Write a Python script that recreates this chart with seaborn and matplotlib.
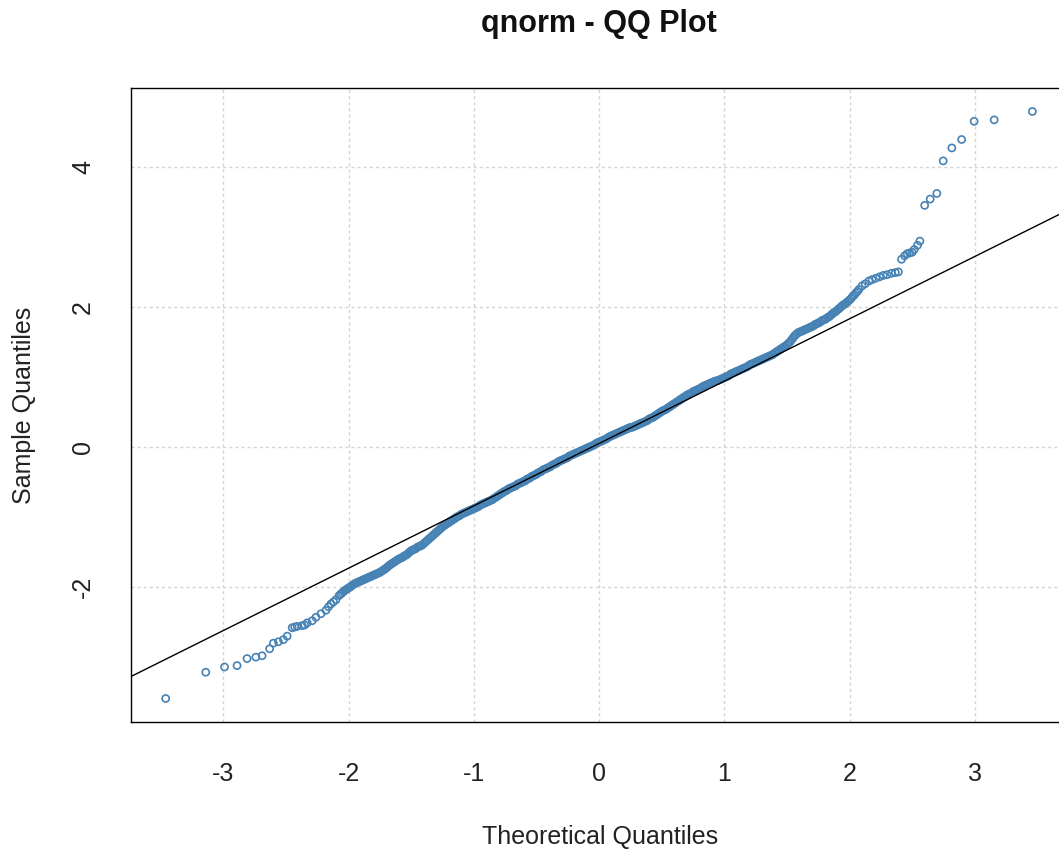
import matplotlib
matplotlib.use("Agg")
import matplotlib.pyplot as plt
import seaborn as sns
import pandas as pd

# Normal QQ plot: theoretical normal quantiles against ordered sample values
theoretical = [
    -3.46, -3.14, -2.99, -2.89, -2.81, -2.74, -2.69, -2.63, -2.60, -2.56,
    -2.52, -2.49, -2.45, -2.43, -2.41, -2.37, -2.35, -2.33, -2.29, -2.26,
    -2.22, -2.18, -2.16, -2.14, -2.12, -2.10, -2.075, -2.05, -2.025, -2.00,
    -1.975, -1.95, -1.925, -1.90, -1.875, -1.85, -1.825, -1.80, -1.775, -1.75,
    -1.725, -1.70, -1.675, -1.65, -1.625, -1.60, -1.575, -1.55,
    -1.525, -1.500, -1.475, -1.450, -1.425, -1.400, -1.375, -1.350, -1.325, -1.300,
    -1.275, -1.250, -1.225, -1.200, -1.175, -1.150, -1.125, -1.100, -1.075, -1.050,
    -1.025, -1.000, -0.975, -0.950, -0.925, -0.900, -0.875, -0.850, -0.825, -0.800,
    -0.775, -0.750, -0.725, -0.700, -0.675, -0.650, -0.625, -0.600, -0.575, -0.550,
    -0.525, -0.500, -0.475, -0.450, -0.425, -0.400, -0.375, -0.350, -0.325, -0.300,
    -0.275, -0.250, -0.225, -0.200, -0.175, -0.150, -0.125, -0.100, -0.075, -0.050,
    -0.025, 0.000, 0.025, 0.050, 0.075, 0.100, 0.125, 0.150, 0.175, 0.200,
    0.225, 0.250, 0.275, 0.300, 0.325, 0.350, 0.375, 0.400, 0.425, 0.450,
    0.475, 0.500, 0.525, 0.550, 0.575, 0.600, 0.625, 0.650, 0.675, 0.700,
    0.725, 0.750, 0.775, 0.800, 0.825, 0.850, 0.875, 0.900, 0.925, 0.950,
    0.975, 1.000, 1.025, 1.050, 1.075, 1.100, 1.125, 1.150, 1.175, 1.200,
    1.225, 1.250, 1.275, 1.300, 1.325, 1.350, 1.375, 1.400, 1.425, 1.450,
    1.475, 1.500, 1.525, 1.550, 1.575, 1.600, 1.625, 1.650, 1.675, 1.700,
    1.725, 1.750, 1.775, 1.800, 1.825, 1.850, 1.875, 1.900, 1.925, 1.950,
    1.975, 2.000, 2.025, 2.050, 2.075,
    2.10, 2.125, 2.155, 2.18, 2.21, 2.24, 2.27, 2.30, 2.335, 2.366,
    2.39, 2.415, 2.44, 2.46, 2.48, 2.50, 2.517, 2.543, 2.562, 2.60,
    2.644, 2.697, 2.748, 2.817, 2.895, 2.995, 3.155, 3.46,
]
sample = [
    -3.59, -3.215, -3.14, -3.12, -3.02, -3.00, -2.98, -2.88, -2.80, -2.78,
    -2.75, -2.70, -2.58, -2.57, -2.56, -2.55, -2.54, -2.51, -2.48, -2.43,
    -2.38, -2.33, -2.28, -2.24, -2.21, -2.18, -2.12, -2.08, -2.04, -2.01,
    -1.98, -1.95, -1.93, -1.91, -1.89, -1.87, -1.85, -1.83, -1.81, -1.79,
    -1.76, -1.73, -1.69, -1.66, -1.63, -1.60, -1.58, -1.55,
    -1.52, -1.48, -1.46, -1.43, -1.41, -1.38, -1.34, -1.30, -1.26, -1.22,
    -1.18, -1.14, -1.11, -1.08, -1.05, -1.02, -0.99, -0.96, -0.94, -0.92,
    -0.90, -0.88, -0.86, -0.83, -0.81, -0.79, -0.77, -0.75, -0.72, -0.69,
    -0.66, -0.63, -0.60, -0.58, -0.56, -0.53, -0.51, -0.49, -0.46, -0.44,
    -0.41, -0.39, -0.36, -0.33, -0.31, -0.29, -0.26, -0.24, -0.21, -0.19,
    -0.17, -0.15, -0.12, -0.10, -0.08, -0.06, -0.04, -0.02, 0.00, 0.02,
    0.05, 0.07, 0.09, 0.11, 0.14, 0.16, 0.18, 0.20, 0.22, 0.24,
    0.26, 0.28, 0.29, 0.31, 0.33, 0.35, 0.37, 0.40, 0.42, 0.45,
    0.48, 0.51, 0.53, 0.56, 0.59, 0.62, 0.65, 0.68, 0.71, 0.74,
    0.76, 0.79, 0.81, 0.83, 0.86, 0.88, 0.90, 0.92, 0.94, 0.95,
    0.97, 0.99, 1.01, 1.04, 1.06, 1.08, 1.10, 1.12, 1.14, 1.17,
    1.19, 1.21, 1.23, 1.25, 1.27, 1.29, 1.31, 1.34, 1.37, 1.40,
    1.43, 1.46, 1.50, 1.56, 1.61, 1.64, 1.66, 1.68, 1.70, 1.72,
    1.75, 1.77, 1.80, 1.82, 1.85, 1.88, 1.92, 1.95, 1.99, 2.03,
    2.06, 2.10, 2.15, 2.20, 2.25,
    2.30, 2.33, 2.37, 2.39, 2.41, 2.43, 2.45, 2.46, 2.48, 2.49,
    2.50, 2.68, 2.73, 2.76, 2.77, 2.78, 2.82, 2.88, 2.94, 3.45,
    3.54, 3.62, 4.085, 4.27, 4.39, 4.65, 4.67, 4.79,
]

# Further observations in the crowded central part of the distribution
theoretical_band = [
    -2.0625, -2.0375, -2.0125, -1.9875, -1.9625, -1.9375, -1.9125, -1.8875,
    -1.8625, -1.8375, -1.8125, -1.7875, -1.7625, -1.7375, -1.7125, -1.6875,
    -1.6625, -1.6375, -1.6125, -1.5875, -1.5625,
    -1.5375, -1.5125, -1.4875, -1.4625, -1.4375, -1.4125, -1.3875, -1.3625,
    -1.3375, -1.3125, -1.2875, -1.2625, -1.2375, -1.2125, -1.1875, -1.1625,
    -1.1375, -1.1125, -1.0875, -1.0625, -1.0375, -1.0125, -0.9875, -0.9625,
    -0.9375, -0.9125, -0.8875, -0.8625, -0.8375, -0.8125, -0.7875, -0.7625,
    -0.7375, -0.7125, -0.6875, -0.6625, -0.6375, -0.6125, -0.5875, -0.5625,
    -0.5375, -0.5125, -0.4875, -0.4625, -0.4375, -0.4125, -0.3875, -0.3625,
    -0.3375, -0.3125, -0.2875, -0.2625, -0.2375, -0.2125, -0.1875, -0.1625,
    -0.1375, -0.1125, -0.0875, -0.0625, -0.0375, -0.0125, 0.0125, 0.0375,
    0.0625, 0.0875, 0.1125, 0.1375, 0.1625, 0.1875, 0.2125, 0.2375,
    0.2625, 0.2875, 0.3125, 0.3375, 0.3625, 0.3875, 0.4125, 0.4375,
    0.4625, 0.4875, 0.5125, 0.5375, 0.5625, 0.5875, 0.6125, 0.6375,
    0.6625, 0.6875, 0.7125, 0.7375, 0.7625, 0.7875, 0.8125, 0.8375,
    0.8625, 0.8875, 0.9125, 0.9375, 0.9625, 0.9875, 1.0125, 1.0375,
    1.0625, 1.0875, 1.1125, 1.1375, 1.1625, 1.1875, 1.2125, 1.2375,
    1.2625, 1.2875, 1.3125, 1.3375, 1.3625, 1.3875, 1.4125, 1.4375,
    1.4625, 1.4875, 1.5125, 1.5375, 1.5625, 1.5875, 1.6125, 1.6375,
    1.6625, 1.6875, 1.7125, 1.7375, 1.7625, 1.7875, 1.8125, 1.8375,
    1.8625, 1.8875, 1.9125, 1.9375, 1.9625, 1.9875, 2.0125, 2.0375,
    2.0625,
]
sample_band = [
    -2.10, -2.06, -2.03, -2.00, -1.965, -1.94, -1.92, -1.90,
    -1.88, -1.86, -1.84, -1.82, -1.80, -1.775, -1.745, -1.71,
    -1.675, -1.645, -1.615, -1.59, -1.565,
    -1.54, -1.50, -1.47, -1.45, -1.42, -1.40, -1.36, -1.32,
    -1.28, -1.24, -1.20, -1.16, -1.12, -1.09, -1.06, -1.03,
    -1.00, -0.98, -0.95, -0.93, -0.91, -0.89, -0.87, -0.85,
    -0.82, -0.80, -0.78, -0.76, -0.73, -0.70, -0.67, -0.64,
    -0.62, -0.59, -0.57, -0.55, -0.52, -0.50, -0.48, -0.45,
    -0.42, -0.40, -0.37, -0.35, -0.32, -0.30, -0.28, -0.25,
    -0.23, -0.20, -0.18, -0.16, -0.13, -0.11, -0.09, -0.07,
    -0.05, -0.03, -0.01, 0.01, 0.03, 0.06, 0.08, 0.10,
    0.12, 0.15, 0.17, 0.19, 0.21, 0.23, 0.25, 0.27,
    0.28, 0.30, 0.32, 0.34, 0.36, 0.38, 0.41, 0.43,
    0.46, 0.49, 0.52, 0.54, 0.57, 0.60, 0.63, 0.66,
    0.69, 0.72, 0.75, 0.77, 0.80, 0.82, 0.84, 0.87,
    0.89, 0.91, 0.93, 0.945, 0.96, 0.98, 1.00, 1.02,
    1.05, 1.07, 1.09, 1.11, 1.13, 1.15, 1.18, 1.20,
    1.22, 1.24, 1.26, 1.28, 1.30, 1.32, 1.35, 1.38,
    1.41, 1.44, 1.48, 1.53, 1.59, 1.63, 1.65, 1.67,
    1.69, 1.71, 1.73, 1.76, 1.78, 1.81, 1.83, 1.86,
    1.90, 1.93, 1.97, 2.01, 2.04, 2.08, 2.12, 2.17,
    2.22,
]

# Reference line through the quartiles
line_intercept = 0.05
line_slope = 0.89

x_ticks = [-3, -2, -1, 0, 1, 2, 3]
y_ticks = [-2, 0, 2, 4]
title = "qnorm - QQ Plot"
x_label = "Theoretical Quantiles"
y_label = "Sample Quantiles"

sns.set_theme(style="white")
plt.rcParams["font.family"] = ["Liberation Sans", "DejaVu Sans"]

df = pd.DataFrame({
    "theoretical": theoretical + theoretical_band,
    "sample": sample + sample_band,
}).sort_values("theoretical")

fig = plt.figure(figsize=(10.59, 8.52), dpi=100)
ax = fig.add_axes([0.1237, 0.1526, 0.8839, 0.7441])

ax.set_axisbelow(True)
ax.grid(True, color="#d3d3d3", linestyle=(0, (2.2, 2.2)), linewidth=1.0)

sns.scatterplot(
    data=df, x="theoretical", y="sample", ax=ax,
    marker="o", s=26, facecolors="none", edgecolors="#4682B4",
    linewidths=1.2, zorder=3,
)
ax.axline((0, line_intercept), slope=line_slope, color="black",
          linewidth=1.0, zorder=4)

# R-style 4% padding around the data range
def padded(values, frac=0.04):
    lo, hi = min(values), max(values)
    span = hi - lo
    return lo - frac * span, hi + frac * span

ax.set_xlim(*padded(df["theoretical"]))
ax.set_ylim(*padded(df["sample"]))

ax.set_xticks(x_ticks)
ax.set_yticks(y_ticks)
ax.set_xticklabels([str(t) for t in x_ticks])
ax.set_yticklabels([str(t) for t in y_ticks])
ax.tick_params(axis="both", direction="out", length=9, width=0.9,
               color="black", labelsize=18, labelcolor="#222222")
ax.tick_params(axis="x", pad=20)
ax.tick_params(axis="y", pad=17, labelrotation=90)
for lbl in ax.get_yticklabels():
    lbl.set_verticalalignment("center")

for side in ["left", "bottom", "top", "right"]:
    ax.spines[side].set_visible(True)
    ax.spines[side].set_color("black")
    ax.spines[side].set_linewidth(1.0)

ax.set_xlabel(x_label, fontsize=18, color="#222222")
ax.set_ylabel(y_label, fontsize=18, color="#222222")
ax.xaxis.set_label_coords(0.501, -0.162)
ax.yaxis.set_label_coords(-0.101, 0.5)
ax.set_title(title, fontsize=22, fontweight="bold", color="#111111", pad=40)

fig.savefig("out.png", dpi=100, facecolor="white")
